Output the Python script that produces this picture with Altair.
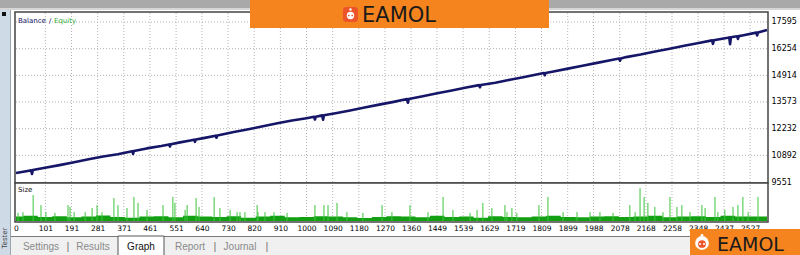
import altair as alt
import pandas as pd

# ---------------- data ----------------
bal_trade = [0, 45, 52, 55, 58, 100, 150, 200, 250, 300, 350, 400, 403, 406, 450, 500,
             527, 530, 533, 560, 600, 613, 616, 619, 650, 687, 690, 693, 750, 800, 850,
             900, 950, 1000, 1026, 1029, 1032, 1054, 1057, 1060, 1100, 1150, 1200, 1250,
             1300, 1346, 1349, 1352, 1400, 1450, 1500, 1550, 1594, 1597, 1600, 1650, 1700,
             1750, 1800, 1817, 1820, 1823, 1850, 1900, 1950, 2000, 2050, 2076, 2079, 2082,
             2100, 2150, 2200, 2250, 2300, 2350, 2396, 2399, 2402, 2450, 2455, 2458, 2461,
             2482, 2485, 2488, 2500, 2548, 2551, 2554, 2585]
bal_value = [10000, 10120, 10140, 9960, 10150, 10270, 10400, 10540, 10690, 10830, 10950,
             11100, 10960, 11110, 11240, 11360, 11440, 11336, 11445, 11530, 11640, 11680,
             11569, 11685, 11770, 11880, 11776, 11885, 12060, 12200, 12350, 12500, 12640,
             12760, 12830, 12691, 12835, 12900, 12684, 12905, 13010, 13150, 13300, 13440,
             13580, 13720, 13539, 13725, 13860, 14010, 14150, 14300, 14420, 14316, 14425,
             14540, 14690, 14830, 14980, 15030, 14919, 15035, 15110, 15250, 15400, 15540,
             15680, 15760, 15649, 15765, 15830, 15960, 16110, 16250, 16400, 16540, 16670,
             16496, 16675, 16800, 16820, 16478, 16830, 16880, 16741, 16885, 16920, 17060,
             16921, 17065, 17190]

spike_trade = [7, 24, 59, 86, 103, 134, 179, 186, 200, 238, 262, 279, 296, 337, 351, 382,
               406, 420, 451, 506, 540, 547, 582, 589, 620, 630, 682, 702, 737, 761, 771,
               788, 830, 833, 857, 888, 933, 1029, 1060, 1074, 1105, 1139, 1194, 1260, 1294,
               1356, 1418, 1470, 1504, 1563, 1587, 1607, 1638, 1683, 1690, 1707, 1724, 1800,
               1831, 1883, 1931, 1976, 2010, 2055, 2113, 2131, 2148, 2162, 2175, 2199, 2227,
               2251, 2275, 2292, 2320, 2361, 2372, 2406, 2416, 2440, 2468, 2485, 2502, 2520,
               2554]
spike_size = [0.22, 0.24, 0.70, 0.43, 0.24, 0.22, 0.43, 0.38, 0.24, 0.24, 0.35, 0.43, 0.24,
              0.62, 0.43, 0.35, 0.65, 0.49, 0.30, 0.43, 0.65, 0.49, 0.30, 0.43, 0.62, 0.38,
              0.65, 0.35, 0.30, 0.24, 0.24, 0.24, 0.43, 0.24, 0.24, 0.24, 0.22, 0.43, 0.43,
              0.43, 0.49, 0.24, 0.22, 0.43, 0.24, 0.43, 0.24, 0.65, 0.30, 0.22, 0.30, 0.49,
              0.35, 0.43, 0.24, 0.35, 0.22, 0.43, 0.65, 0.24, 0.24, 0.24, 0.24, 0.22, 0.43,
              0.24, 0.89, 0.65, 0.49, 0.38, 0.24, 0.65, 0.38, 0.43, 0.24, 0.43, 0.35, 0.65,
              0.24, 0.30, 0.38, 0.43, 0.65, 0.24, 0.65]

base_trade = [0, 50, 100, 150, 200, 250, 300, 350, 400, 450, 500, 550, 600, 650, 700, 750,
              800, 850, 900, 950, 1000, 1050, 1100, 1150, 1200, 1250, 1300, 1350, 1400, 1450,
              1500, 1550, 1600, 1650, 1700, 1750, 1800, 1850, 1900, 1950, 2000, 2050, 2100,
              2150, 2200, 2250, 2300, 2350, 2400, 2450, 2500, 2585]
base_size = [0.12, 0.14, 0.11, 0.13, 0.10, 0.12, 0.15, 0.11, 0.09, 0.12, 0.13, 0.10, 0.14,
             0.12, 0.11, 0.13, 0.09, 0.12, 0.14, 0.10, 0.11, 0.13, 0.12, 0.10, 0.08, 0.11,
             0.13, 0.12, 0.10, 0.14, 0.11, 0.12, 0.09, 0.13, 0.11, 0.10, 0.12, 0.14, 0.11,
             0.10, 0.12, 0.13, 0.11, 0.12, 0.14, 0.10, 0.12, 0.13, 0.11, 0.14, 0.12, 0.12]

y_ticks = [9551, 10892, 12232, 13573, 14914, 16254, 17595]
x_ticks = [0, 101, 191, 281, 371, 461, 551, 640, 730, 820, 910, 1000, 1090, 1180, 1270,
           1360, 1449, 1539, 1629, 1719, 1809, 1899, 1988, 2078, 2168, 2258, 2348, 2437, 2527]

tab_names = ["Settings", "Results", "Graph", "Report", "Journal"]
tab_x = [41, 93, 141, 190, 240]

FONT = "DejaVu Sans"
XS = alt.Scale(domain=[0, 2585], range=[16, 767], nice=False, zero=False)
YM = alt.Scale(domain=[9551, 18047], range=[182, 13], nice=False, zero=False)
YS = alt.Scale(domain=[0, 1], range=[221, 184], nice=False, zero=True)

one = pd.DataFrame({"k": [0]})


def rect(x, y, x2, y2, **kw):
    return alt.Chart(one).mark_rect(**kw).encode(
        x=alt.value(x), y=alt.value(y), x2=alt.value(x2), y2=alt.value(y2))


def text(s, x, y, **kw):
    kw.setdefault("font", FONT)
    kw.setdefault("baseline", "middle")
    return alt.Chart(one).mark_text(text=s, **kw).encode(x=alt.value(x), y=alt.value(y))


def dot(x, y, **kw):
    return alt.Chart(one).mark_point(filled=True, **kw).encode(x=alt.value(x), y=alt.value(y))


layers = []
# window chrome
layers.append(rect(0, 0, 800, 8, fill="#a9a9a9"))
layers.append(rect(0, 8, 800, 10, fill="#d6d6d6"))
layers.append(rect(0, 10, 10, 255, fill="#cfdae7"))
layers.append(rect(10, 10, 11, 255, fill="#9aa4ae"))
layers.append(rect(2, 12, 6, 16, fill="#111111"))
layers.append(text("Tester", 5, 238, angle=270, fontSize=7, color="#444444", align="center"))

# panel frames
layers.append(rect(15, 12, 768, 183, fill="white", stroke="#444444", strokeWidth=1.5))
layers.append(rect(15, 183, 768, 222, fill="white", stroke="#444444", strokeWidth=1.5))

# grid
hg = pd.DataFrame({"v": y_ticks[1:]})
layers.append(alt.Chart(hg).mark_rule(color="#b4b4b4", strokeDash=[1, 2], strokeWidth=1).encode(
    y=alt.Y("v:Q", scale=YM, axis=None), x=alt.value(16), x2=alt.value(767)))
vg = pd.DataFrame({"t": x_ticks[1:]})
layers.append(alt.Chart(vg).mark_rule(color="#b4b4b4", strokeDash=[1, 2], strokeWidth=1).encode(
    x=alt.X("t:Q", scale=XS, axis=None), y=alt.value(13), y2=alt.value(182)))
layers.append(alt.Chart(vg).mark_rule(color="#b4b4b4", strokeDash=[1, 2], strokeWidth=1).encode(
    x=alt.X("t:Q", scale=XS, axis=None), y=alt.value(185), y2=alt.value(221)))

# size panel
base = pd.DataFrame({"t": base_trade, "s": base_size})
layers.append(alt.Chart(base).mark_area(color="#12a012", interpolate="step").encode(
    x=alt.X("t:Q", scale=XS, axis=None), y=alt.Y("s:Q", scale=YS, axis=None)))
sp = pd.DataFrame({"t": spike_trade, "s": spike_size})
layers.append(alt.Chart(sp).mark_rule(color="#3cc43c", strokeWidth=1).encode(
    x=alt.X("t:Q", scale=XS, axis=None), y=alt.Y("s:Q", scale=YS, axis=None), y2=alt.datum(0)))

# balance line with axes
bal = pd.DataFrame({"t": bal_trade, "v": bal_value})
xaxis = alt.Axis(values=x_ticks, format="d", orient="bottom", offset=-32, ticks=False,
                 domain=False, grid=False, labelFontSize=7.5, labelFont=FONT, labelColor="#000000",
                 labelPadding=1, labelOverlap=False, labelFlush=False, title=None)
yaxis = alt.Axis(values=y_ticks, format="d", orient="right", offset=-33, ticks=False,
                 domain=False, grid=False, labelFontSize=8, labelFont=FONT, labelColor="#000000",
                 labelPadding=4, labelOverlap=False, labelFlush=False, title=None)
layers.append(alt.Chart(bal).mark_line(color="#161668", strokeWidth=2.6, strokeJoin="round").encode(
    x=alt.X("t:Q", scale=XS, axis=xaxis), y=alt.Y("v:Q", scale=YM, axis=yaxis)))

# panel labels
layers.append(text("Balance", 18, 21, fontSize=7, color="#22226e", align="left"))
layers.append(text("/", 49, 21, fontSize=7, color="#22226e", align="left"))
layers.append(text("Equity", 54, 21, fontSize=7, color="#36b036", align="left"))
layers.append(text("Size", 18, 190, fontSize=7, color="#111111", align="left"))

# tab strip
layers.append(rect(11, 237, 800, 255, fill="#f0f0f0"))
layers.append(rect(11, 236, 800, 237, fill="#7a7a7a"))
layers.append(rect(118, 236, 164, 258, fill="white", stroke="#555555", strokeWidth=1))
for name, x in zip(tab_names, tab_x):
    col = "#111111" if name == "Graph" else "#8a8a8a"
    layers.append(text(name, x, 247, fontSize=10, font="Liberation Sans", color=col, align="center"))
for x in [68, 215, 267]:
    layers.append(text("|", x, 247, fontSize=11, font="Liberation Sans", color="#777777", align="center"))

# top banner
layers.append(rect(250, 0, 549, 28, fill="#f5841f"))
layers.append(rect(343, 7, 358, 22, fill="#ec5429", cornerRadius=3))
layers.append(dot(350.5, 15.5, size=55, color="white", opacity=1))
layers.append(dot(350.5, 9.5, size=6, color="white", opacity=1))
layers.append(dot(348.8, 15.5, size=3, color="#ec5429", opacity=1))
layers.append(dot(352.2, 15.5, size=3, color="#ec5429", opacity=1))
layers.append(text("EAMOL", 362, 15.5, fontSize=21, color="#1a1a1a", align="left"))

# bottom-right logo
layers.append(rect(690, 229, 800, 255, fill="#f5841f"))
layers.append(dot(702, 243, size=190, color="white", opacity=1))
layers.append(dot(702, 244, size=60, color="#ec5429", opacity=1))
layers.append(dot(702, 235.5, size=8, color="white", opacity=1))
layers.append(dot(700, 244, size=4, color="white", opacity=1))
layers.append(dot(704, 244, size=4, color="white", opacity=1))
layers.append(text("EAMOL", 717, 244.5, fontSize=19, color="#1a1a1a", align="left"))

chart = alt.layer(*layers).resolve_scale(x="independent", y="independent").properties(
    width=800, height=255, padding=0, background="white",
    autosize=alt.AutoSizeParams(type="none")
).configure_view(stroke=None)

chart.save("out.html", embed_options={"renderer": "svg", "actions": False})
